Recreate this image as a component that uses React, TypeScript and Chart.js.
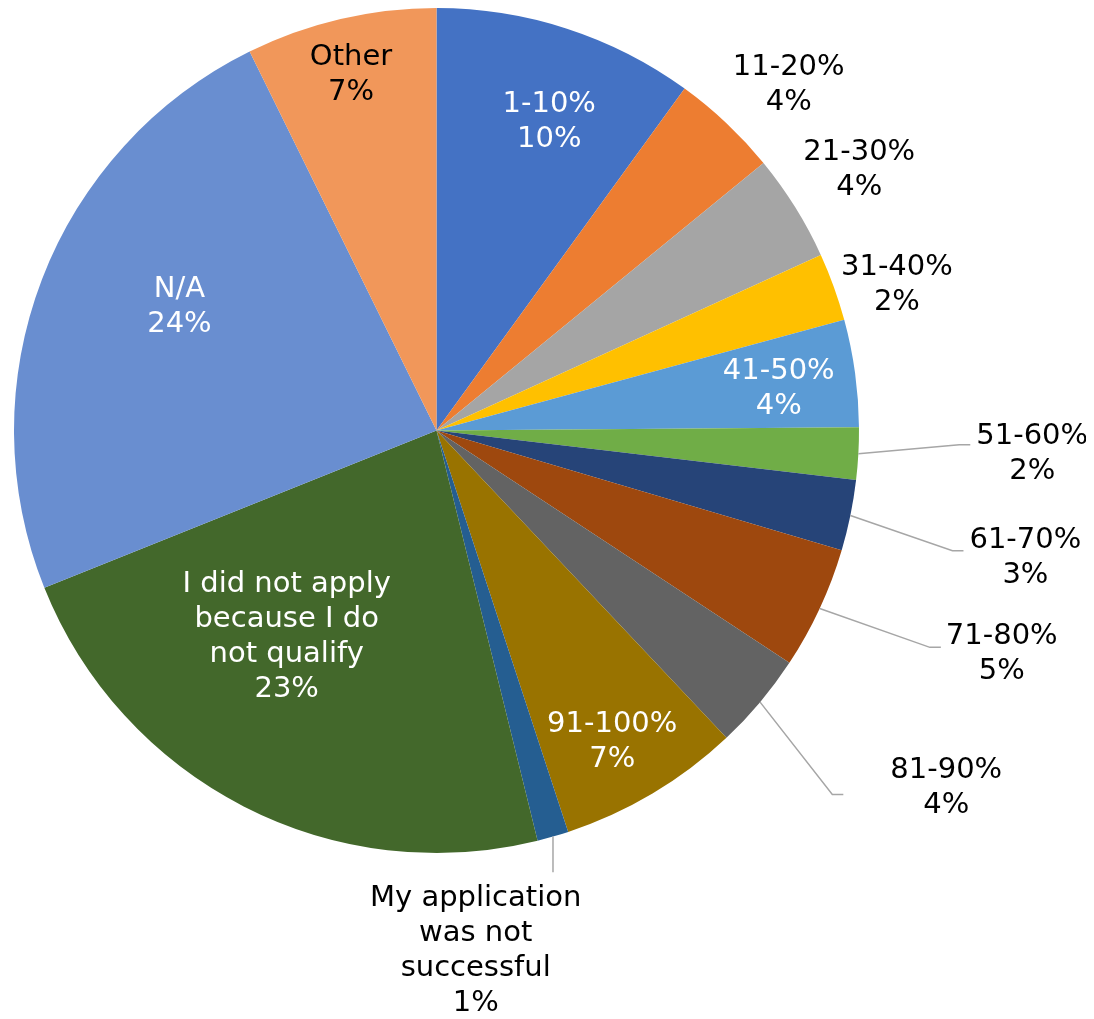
import React, { useEffect, useRef } from "react";
import { Chart, registerables } from "chart.js";

Chart.register(...registerables);

const categories = [
  "1-10%",
  "11-20%",
  "21-30%",
  "31-40%",
  "41-50%",
  "51-60%",
  "61-70%",
  "71-80%",
  "81-90%",
  "91-100%",
  "My application was not successful",
  "I did not apply because I do not qualify",
  "N/A",
  "Other",
];

const values = [10.0, 4.1, 4.1, 2.6, 4.1, 2.0, 2.7, 4.7, 3.7, 7.0, 1.2, 22.8, 23.8, 7.3];

const percentLabels = ["10%", "4%", "4%", "2%", "4%", "2%", "3%", "5%", "4%", "7%", "1%", "23%", "24%", "7%"];

const categoryLines: string[][] = [
  ["1-10%"],
  ["11-20%"],
  ["21-30%"],
  ["31-40%"],
  ["41-50%"],
  ["51-60%"],
  ["61-70%"],
  ["71-80%"],
  ["81-90%"],
  ["91-100%"],
  ["My application", "was not", "successful"],
  ["I did not apply", "because I do", "not qualify"],
  ["N/A"],
  ["Other"],
];

const colors = [
  "#4472C4",
  "#ED7D31",
  "#A5A5A5",
  "#FFC000",
  "#5B9BD5",
  "#70AD47",
  "#264478",
  "#9E480E",
  "#636363",
  "#997300",
  "#255E91",
  "#43682B",
  "#698ED0",
  "#F1975A",
];

type Placement = {
  r: number;
  shift: number;
  color: string;
  leader?: "side" | "below";
  gap?: number;
  dy?: number;
};

const placements: Placement[] = [
  { r: 0.777, shift: 2.1, color: "#FFFFFF" },
  { r: 1.168, shift: 2.2, color: "#000000" },
  { r: 1.175, shift: 0.3, color: "#000000" },
  { r: 1.143, shift: 2.3, color: "#000000" },
  { r: 0.816, shift: 0.9, color: "#FFFFFF" },
  { r: 1.411, shift: -0.9, color: "#000000", leader: "side", gap: 6, dy: -9 },
  { r: 1.426, shift: 0.6, color: "#000000", leader: "side", gap: 6, dy: -7 },
  { r: 1.439, shift: -3.3, color: "#000000", leader: "side", gap: 5, dy: -7 },
  { r: 1.473, shift: -5.0, color: "#000000", leader: "side", gap: 47, dy: 7 },
  { r: 0.846, shift: 1.3, color: "#FFFFFF" },
  { r: 1.236, shift: 11.7, color: "#000000", leader: "below", gap: 9 },
  { r: 0.604, shift: 8.8, color: "#FFFFFF" },
  { r: 0.675, shift: 4.7, color: "#FFFFFF" },
  { r: 0.865, shift: -0.4, color: "#000000" },
];

const FONT = "29px 'DejaVu Sans', Verdana, sans-serif";
const LINE_H = 35;

const labelPlugin = {
  id: "sliceLabels",
  afterDatasetsDraw(chart: any) {
    const ctx = chart.ctx as CanvasRenderingContext2D;
    const meta = chart.getDatasetMeta(0);
    ctx.save();
    ctx.font = FONT;
    ctx.textAlign = "center";
    ctx.textBaseline = "middle";
    meta.data.forEach((arc: any, i: number) => {
      const p = arc.getProps(["x", "y", "startAngle", "endAngle", "outerRadius"], true);
      const mid = (p.startAngle + p.endAngle) / 2;
      const pl = placements[i];
      const a = mid + (pl.shift * Math.PI) / 180;
      const R = p.outerRadius;
      const cx = p.x + Math.cos(a) * R * pl.r;
      const cy = p.y + Math.sin(a) * R * pl.r;
      const lines = [...categoryLines[i], percentLabels[i]];
      const top = cy - (LINE_H * lines.length) / 2;
      const maxW = Math.max(...lines.map((t) => ctx.measureText(t).width));
      if (pl.leader) {
        const sx = p.x + Math.cos(mid) * R;
        const sy = p.y + Math.sin(mid) * R;
        ctx.strokeStyle = "#A6A6A6";
        ctx.lineWidth = 1.5;
        ctx.beginPath();
        ctx.moveTo(sx, sy);
        if (pl.leader === "side") {
          const ex = cx - maxW / 2 - (pl.gap || 0);
          const ey = cy + (pl.dy || 0);
          ctx.lineTo(ex - 11, ey);
          ctx.lineTo(ex, ey);
        } else {
          ctx.lineTo(sx, top - (pl.gap || 0));
        }
        ctx.stroke();
      }
      ctx.fillStyle = pl.color;
      lines.forEach((t, k) => {
        ctx.fillText(t, cx, top + LINE_H * (k + 0.5));
      });
    });
    ctx.restore();
  },
};

export default function App() {
  const canvasRef = useRef<HTMLCanvasElement | null>(null);

  useEffect(() => {
    const canvas = canvasRef.current;
    if (!canvas) return;
    const chart = new Chart(canvas, {
      type: "pie",
      data: {
        labels: categories,
        datasets: [
          {
            data: values,
            backgroundColor: colors,
            borderColor: colors,
            borderWidth: 0,
          },
        ],
      },
      options: {
        responsive: false,
        animation: false,
        layout: {
          padding: { left: 6, top: 0, right: 235, bottom: 166 },
        },
        plugins: {
          legend: { display: false },
          tooltip: { enabled: false },
        },
      },
      plugins: [labelPlugin],
    });
    return () => chart.destroy();
  }, []);

  return (
    <div style={{ width: 1086, height: 1011, marginBottom: -8 }}>
      <canvas ref={canvasRef} width={1086} height={1011} style={{ display: "block" }} />
    </div>
  );
}
